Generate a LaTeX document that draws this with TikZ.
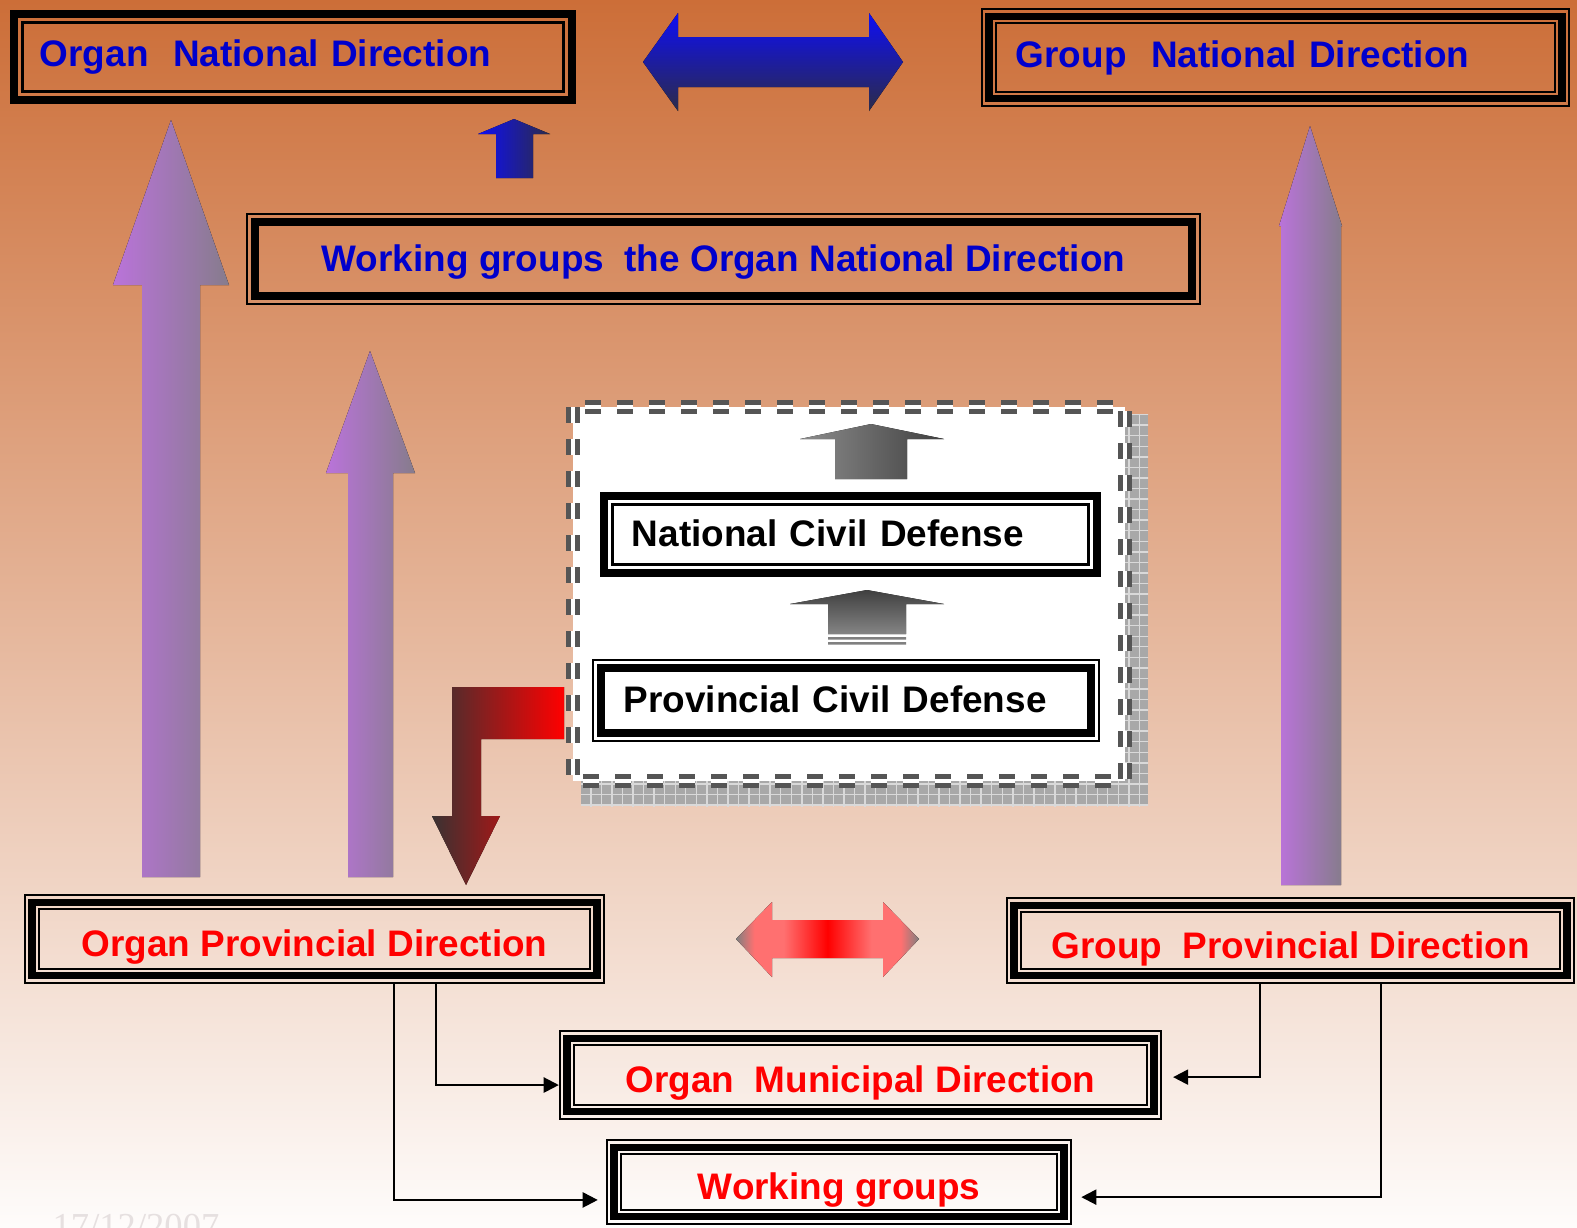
\documentclass[tikz,border=0pt]{standalone}
\usepackage{fontspec}
\setmainfont{Liberation Sans}
\newfontfamily\datefont{Liberation Serif}
\usetikzlibrary{arrows.meta,patterns}

\definecolor{bgtop}{RGB}{204,110,56}
\definecolor{bgbot}{RGB}{254,252,251}
\definecolor{txtblue}{RGB}{0,0,204}
\definecolor{purpleL}{RGB}{186,115,218}
\definecolor{purpleR}{RGB}{134,124,140}
\definecolor{blueT}{RGB}{14,14,245}
\definecolor{blueB}{RGB}{44,44,72}
\definecolor{redD}{RGB}{58,50,50}
\definecolor{pinkR}{RGB}{255,112,112}
\definecolor{dashgray}{RGB}{85,85,85}
\definecolor{datecol}{RGB}{230,224,224}

\pgfdeclarehorizontalshading{redbar}{100bp}{color(0bp)=(gray); color(25bp)=(gray); color(30bp)=(pinkR); color(38bp)=(pinkR); color(50bp)=(red); color(62bp)=(pinkR); color(70bp)=(pinkR); color(75bp)=(gray); color(100bp)=(gray)}

\newcommand{\rim}[3]{\draw[#1] ([shift={(#3,#3)}]#2.south west) rectangle ([shift={(-#3,-#3)}]#2.north east);}

\begin{document}
\begin{tikzpicture}[x=0.01cm,y=-0.01cm,
  box/.style={rectangle,inner sep=0pt,outer sep=0pt,font=\fontsize{10.5}{12}\selectfont\bfseries},
  low/.style={text height=8pt,text depth=1pt},
  lower/.style={text height=10pt,text depth=0pt},
  thinrim/.style={line width=0.7pt},
  thickrim/.style={line width=2.2pt},
  purple arrow/.style={left color=purpleL,right color=purpleR},
  link/.style={-{Triangle[length=4.3pt,width=4.3pt]},line width=0.6pt},
  elbow/.style={to path={|- (\tikztotarget)}}]

  \useasboundingbox (0,0) rectangle (1577,1227);
  \fill[top color=bgtop,bottom color=bgbot] (0,0) rectangle (1577,1227);

  \fill[gray!68] (581,414) rectangle (1148,806);
  \fill[pattern=grid,pattern color=gray!30] (581,414) rectangle (1148,806);
  \draw[dashgray,fill=white,line width=1.4pt,double=white,double distance=1.1pt,
    dash pattern=on 4.5pt off 4.6pt] (573,407) rectangle (1125,781);

  \fill[left color=black!45,right color=black!75] (835,479) -- (835,439) -- (800,439) -- (871,424)
    -- (944,439) -- (907,439) -- (907,479) -- cycle;
  \fill[top color=black!75,bottom color=black!48] (828,634) -- (828,604) -- (790,604) -- (867,590)
    -- (944,604) -- (906,604) -- (906,634) -- cycle;
  \fill[black!50] (828,637) rectangle (906,639.5) (828,642) rectangle (906,644.5);

  \fill[purple arrow] (142,877) -- (142,285) -- (113,285) -- (171,120) -- (229,285) -- (200,285) -- (200,877) -- cycle;
  \fill[purple arrow] (348,877) -- (348,473) -- (326,473) -- (370,351) -- (415,473) -- (393,473) -- (393,877) -- cycle;
  \fill[purple arrow] (1281,885) -- (1281,226) -- (1279,226) -- (1310,126) -- (1342,226) -- (1341,226) -- (1341,885) -- cycle;

  \fill[top color=blueT,bottom color=blueB] (643,62) -- (678,13) -- (678,37) -- (869,37) -- (869,13) -- (903,62)
    -- (869,111) -- (869,87) -- (678,87) -- (678,111) -- cycle;
  \fill[left color=blueT,right color=blueB] (496,178) -- (496,134) -- (478,134) -- (514,119) -- (550,134)
    -- (533,134) -- (533,178) -- cycle;

  \fill[left color=redD,right color=red] (564,687) -- (452,687) -- (452,816) -- (432,816) -- (466,885)
    -- (500,816) -- (481,816) -- (481,739) -- (564,739) -- cycle;
  \fill[shading=redbar] (736,939) -- (772,902) -- (772,920) -- (883,920) -- (883,902) -- (919,939)
    -- (883,977) -- (883,958) -- (772,958) -- (772,977) -- cycle;

  \node[box,text=txtblue,minimum height=0.94cm,text width=5.06cm,inner xsep=0.3cm,align=left] (ond) at (293,57) {Organ\ \ National Direction};
  \node[box,text=txtblue,minimum height=0.99cm,text width=5.19cm,inner xsep=0.35cm,align=left] (gnd) at (1275.5,57.5) {Group\ \ National Direction};
  \node[box,low,text=txtblue,minimum width=9.55cm,minimum height=0.92cm] (wgo) at (723.5,259) {Working groups\ \ the Organ National Direction};
  \node[box,low,fill=white,minimum height=0.85cm,text width=4.37cm,inner xsep=0.32cm,align=left] (ncd) at (850.5,534.5) {National Civil Defense};
  \node[box,low,fill=white,minimum height=0.83cm,text width=4.44cm,inner xsep=0.32cm,align=left] (pcd) at (846,700.5) {Provincial Civil Defense};
  \node[box,lower,text=red,minimum width=5.81cm,minimum height=0.9cm] (opd) at (314.5,939) {Organ Provincial Direction};
  \node[box,lower,text=red,minimum width=5.69cm,minimum height=0.87cm] (gpd) at (1290.5,940.5) {Group\ \ Provincial Direction};
  \node[box,lower,text=red,minimum width=6.03cm,minimum height=0.9cm] (omd) at (860.5,1075) {Organ\ \ Municipal Direction};
  \node[box,lower,text=red,minimum width=4.66cm,minimum height=0.86cm] (wg) at (839,1182) {Working groups};

  \foreach \b in {ond,ncd} {\rim{thickrim}{\b}{1.15pt} \rim{thinrim}{\b}{3.55pt}}
  \foreach \b in {wgo,pcd} {\rim{thinrim}{\b}{0.36pt} \rim{thickrim}{\b}{2.55pt}}
  \foreach \b in {gnd,opd,gpd,omd,wg} {\rim{thinrim}{\b}{0.36pt} \rim{thickrim}{\b}{2.4pt} \rim{thinrim}{\b}{4.3pt}}

  \path[link]
    (opd.south -| 436,0) edge[elbow] ([yshift=-2.85pt]omd.west)
    (opd.south -| 394,0) edge[elbow,shorten >=2.3pt] ([yshift=-5.1pt]wg.west)
    (gpd.south -| 1260,0) edge[elbow,shorten >=3.1pt] ([yshift=-0.6pt]omd.east)
    (gpd.south -| 1381,0) edge[elbow,shorten >=2.6pt] ([yshift=-4.3pt]wg.east);

  \node[font=\datefont\fontsize{10.4}{12}\selectfont,text=datecol,anchor=base west,inner sep=0pt] (date) at (52,1238) {17/12/2007};
\end{tikzpicture}
\end{document}
